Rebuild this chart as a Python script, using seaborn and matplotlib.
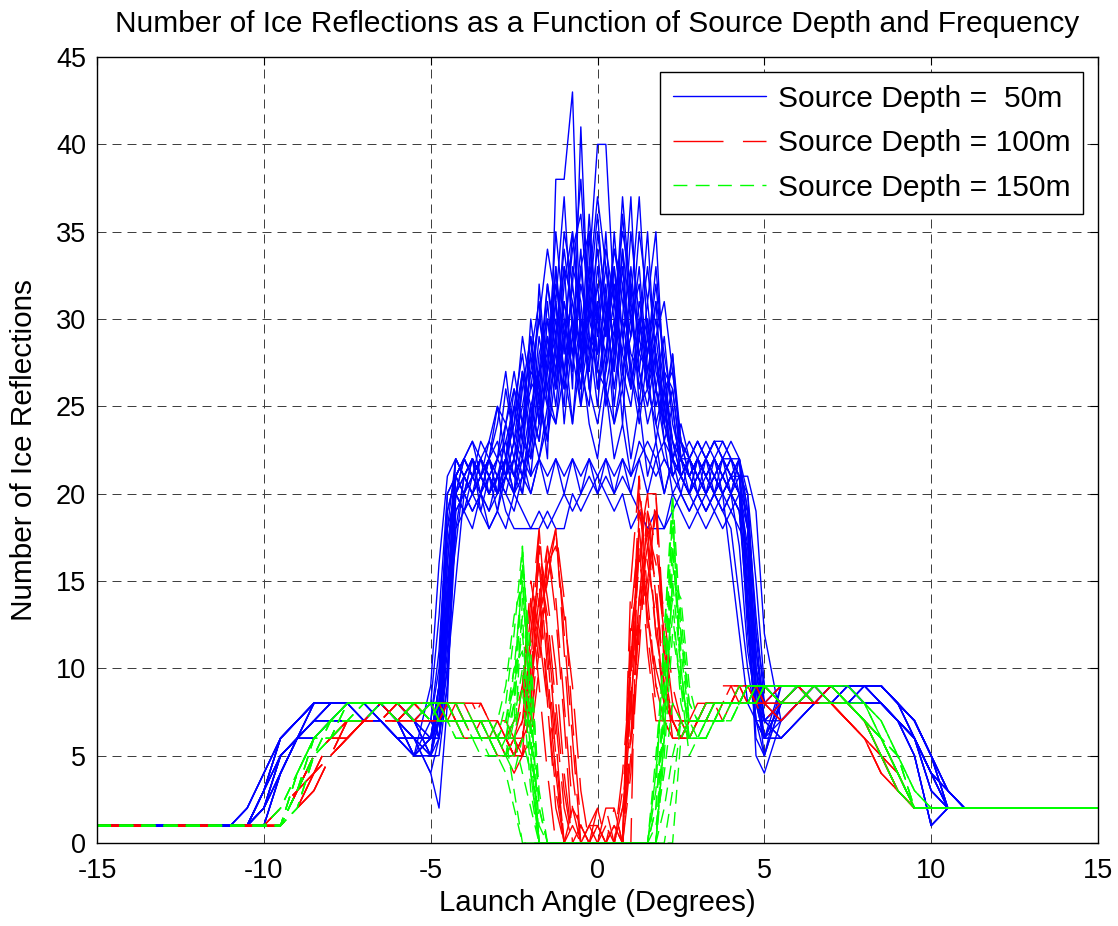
import matplotlib
matplotlib.use("Agg")
import pandas as pd
import seaborn as sns
import matplotlib.pyplot as plt
from matplotlib.lines import Line2D

# launch angle grids (degrees): coarse on the wings, finer in the middle
ANGLE_LEFT = [-15, -11, -10.5, -10, -9.5, -9, -8.5, -8, -7.5, -7, -6.5, -6, -5.5]
ANGLE_CORE = [-5, -4.75, -4.5, -4.25, -4, -3.75, -3.5, -3.25, -3, -2.75,
              -2.5, -2.25, -2, -1.75, -1.5, -1.25, -1, -0.75, -0.5, -0.25,
              0, 0.25, 0.5, 0.75, 1, 1.25, 1.5, 1.75, 2, 2.25, 2.5,
              2.75, 3, 3.25, 3.5, 3.75, 4, 4.25, 4.5, 4.75, 5]
ANGLE_RIGHT = [5.5, 6, 6.5, 7, 7.5, 8, 8.5, 9, 9.5, 10, 10.5, 11, 15]

DEPTHS = ["Source Depth =  50m", "Source Depth = 100m", "Source Depth = 150m"]

# ---- 50 m source (blue) ----
BLUE_LEFT = [
    [1, 1, 1, 3, 6, 7, 8, 8, 8, 8, 8, 7, 6],
    [1, 1, 1, 2, 5, 6, 7, 8, 8, 8, 8, 8, 7],
    [1, 1, 2, 4, 6, 7, 8, 8, 8, 8, 7, 6, 6],
    [1, 1, 1, 1, 4, 6, 7, 7, 8, 8, 8, 7, 5],
    [1, 1, 1, 3, 5, 6, 6, 7, 7, 7, 8, 8, 7],
    [1, 1, 1, 2, 4, 6, 8, 8, 8, 7, 7, 6, 5],
]
BLUE_CORE = [
    [6, 6, 12, 21, 22, 21, 22, 21, 20, 21, 22, 24, 21, 26, 22, 38, 38, 43, 28, 24,
     22, 26, 22, 24, 21, 23, 22, 21, 22, 21, 22, 21, 22, 21, 22, 21, 22, 21, 14, 8, 7],
    [5, 7, 15, 20, 21, 20, 21, 22, 21, 23, 25, 22, 28, 24, 30, 27, 33, 26, 41, 29,
     25, 30, 24, 26, 22, 25, 21, 23, 20, 22, 21, 20, 21, 20, 21, 20, 21, 20, 12, 7, 6],
    [6, 8, 18, 22, 21, 22, 21, 20, 21, 22, 21, 20, 23, 32, 26, 24, 29, 31, 27, 33,
     40, 40, 31, 28, 35, 30, 26, 24, 22, 21, 22, 22, 23, 22, 23, 23, 22, 22, 18, 9, 8],
    [7, 6, 10, 19, 20, 19, 20, 19, 21, 20, 19, 21, 20, 22, 24, 33, 26, 30, 25, 28,
     31, 26, 29, 37, 31, 37, 29, 26, 24, 22, 21, 20, 19, 20, 19, 20, 19, 20, 16, 10, 6],
    [5, 5, 9, 20, 22, 21, 23, 22, 24, 27, 23, 27, 25, 23, 28, 31, 24, 29, 34, 26,
     30, 28, 33, 27, 29, 35, 31, 35, 26, 23, 21, 22, 21, 22, 23, 22, 21, 22, 20, 12, 7],
    [6, 9, 17, 21, 20, 22, 20, 22, 20, 22, 24, 27, 23, 25, 23, 27, 31, 28, 25, 35,
     27, 32, 25, 30, 27, 24, 28, 31, 24, 28, 22, 20, 22, 20, 22, 21, 20, 21, 15, 9, 5],
    [4, 2, 8, 20, 19, 20, 19, 18, 19, 18, 20, 21, 24, 27, 29, 26, 32, 35, 30, 27,
     33, 29, 34, 31, 28, 27, 24, 26, 23, 20, 19, 18, 19, 18, 19, 18, 19, 18, 17, 8, 9],
    [6, 7, 14, 22, 21, 22, 21, 22, 21, 22, 21, 22, 21, 22, 21, 22, 21, 22, 21, 22,
     21, 22, 21, 22, 21, 22, 23, 22, 23, 22, 23, 22, 23, 22, 23, 22, 21, 22, 19, 13, 8],
    [5, 6, 11, 18, 19, 18, 20, 18, 19, 21, 20, 27, 22, 24, 29, 25, 30, 27, 32, 29,
     28, 35, 27, 34, 26, 29, 35, 27, 25, 21, 20, 19, 20, 19, 20, 19, 20, 19, 14, 6, 5],
    [6, 8, 16, 21, 22, 21, 22, 21, 22, 24, 22, 26, 29, 24, 27, 33, 28, 35, 29, 31,
     26, 28, 31, 26, 33, 28, 27, 29, 25, 28, 23, 21, 22, 21, 22, 23, 22, 21, 16, 8, 6],
    [7, 10, 19, 21, 20, 21, 20, 21, 20, 21, 20, 19, 18, 18, 19, 18, 18, 20, 19, 20,
     21, 20, 19, 20, 18, 19, 18, 19, 18, 20, 21, 20, 21, 20, 21, 20, 21, 20, 17, 11, 7],
    [5, 7, 13, 20, 21, 22, 21, 23, 25, 24, 27, 24, 29, 25, 31, 26, 29, 24, 30, 27,
     35, 31, 26, 30, 37, 27, 25, 28, 24, 22, 24, 22, 21, 22, 21, 22, 21, 20, 13, 7, 6],
    [6, 6, 13, 21, 22, 23, 21, 22, 25, 22, 26, 24, 27, 26, 23, 29, 25, 33, 31, 26,
     24, 27, 30, 24, 32, 25, 30, 24, 26, 23, 21, 22, 21, 22, 21, 20, 21, 20, 16, 9, 7],
    [8, 6, 12, 20, 19, 20, 21, 20, 21, 22, 25, 23, 30, 26, 32, 28, 26, 29, 27, 25,
     31, 25, 28, 33, 27, 31, 28, 32, 27, 26, 22, 21, 20, 21, 20, 21, 20, 22, 14, 5, 4],
    [6, 7, 14, 21, 20, 22, 19, 21, 19, 22, 20, 23, 22, 27, 25, 31, 27, 24, 28, 33,
     28, 30, 33, 29, 26, 30, 27, 23, 26, 21, 22, 21, 22, 21, 20, 21, 22, 21, 18, 10, 8],
    [5, 9, 20, 21, 22, 21, 22, 21, 20, 21, 23, 21, 24, 22, 25, 24, 27, 30, 26, 29,
     27, 26, 24, 27, 25, 29, 26, 28, 23, 25, 21, 22, 23, 22, 23, 22, 23, 22, 19, 12, 9],
    [5, 8, 13, 17, 21, 22, 21, 22, 23, 21, 25, 28, 24, 29, 26, 30, 27, 32, 28, 36,
     29, 33, 28, 36, 30, 27, 31, 26, 29, 24, 22, 23, 22, 21, 22, 20, 16, 12, 8, 7, 6],
    [9, 16, 21, 22, 21, 20, 21, 20, 22, 23, 21, 24, 26, 30, 27, 35, 30, 27, 33, 28,
     32, 27, 35, 29, 31, 26, 29, 25, 27, 22, 21, 22, 21, 22, 21, 22, 21, 21, 20, 15, 9],
    [6, 7, 10, 15, 20, 21, 22, 21, 22, 21, 23, 22, 25, 27, 32, 29, 34, 30, 26, 31,
     36, 30, 27, 32, 29, 33, 27, 30, 26, 27, 23, 21, 22, 21, 20, 19, 18, 14, 10, 7, 5],
    [7, 11, 19, 21, 22, 21, 22, 23, 22, 26, 23, 25, 28, 31, 25, 28, 35, 32, 38, 30,
     34, 29, 32, 27, 30, 32, 26, 31, 28, 25, 21, 20, 22, 21, 22, 21, 22, 21, 21, 19, 12],
    [4, 6, 9, 18, 21, 20, 21, 20, 21, 20, 22, 21, 23, 28, 30, 26, 31, 28, 33, 35,
     30, 34, 31, 35, 32, 29, 33, 28, 25, 22, 21, 20, 21, 20, 21, 20, 21, 20, 19, 9, 6],
    [6, 9, 14, 20, 19, 21, 20, 19, 20, 24, 26, 23, 27, 30, 34, 31, 37, 29, 27, 32,
     37, 33, 30, 28, 26, 30, 28, 33, 27, 23, 22, 21, 20, 19, 20, 21, 20, 19, 13, 7, 7],
    [8, 13, 20, 21, 22, 23, 22, 21, 20, 22, 24, 29, 26, 27, 28, 32, 29, 34, 36, 30,
     28, 31, 29, 34, 30, 28, 30, 26, 24, 26, 22, 21, 22, 23, 22, 21, 20, 17, 11, 8, 6],
    [6, 7, 12, 19, 20, 19, 20, 22, 20, 21, 22, 20, 25, 23, 27, 29, 33, 31, 28, 32,
     26, 30, 34, 32, 27, 25, 26, 29, 31, 27, 23, 22, 21, 20, 21, 22, 22, 20, 18, 11, 8],
    [5, 8, 16, 22, 21, 20, 22, 20, 21, 19, 18, 18, 18, 19, 18, 19, 20, 19, 20, 21,
     20, 21, 20, 21, 20, 19, 18, 18, 18, 19, 20, 19, 20, 19, 20, 19, 20, 19, 14, 9, 6],
    [6, 9, 18, 20, 22, 21, 20, 22, 20, 22, 20, 22, 20, 22, 20, 22, 20, 22, 20, 22,
     20, 22, 20, 22, 20, 22, 20, 22, 20, 22, 20, 22, 20, 22, 20, 22, 20, 22, 18, 10, 7],
]
BLUE_RIGHT = [
    [8, 9, 9, 9, 9, 9, 9, 8, 7, 5, 3, 2, 2],
    [7, 8, 8, 9, 9, 9, 8, 7, 6, 4, 2, 2, 2],
    [9, 9, 8, 8, 8, 9, 9, 8, 6, 4, 3, 2, 2],
    [8, 8, 9, 9, 9, 8, 8, 7, 5, 1, 2, 2, 2],
    [6, 7, 8, 8, 9, 9, 9, 8, 7, 5, 2, 2, 2],
    [8, 9, 9, 8, 8, 8, 8, 7, 6, 3, 2, 2, 2],
]

# ---- 100 m source (red) ----
RED_LEFT = [
    [1, 1, 1, 1, 1, 3, 5, 6, 7, 7, 7, 8, 8],
    [1, 1, 1, 1, 1, 2, 4, 5, 6, 7, 7, 7, 8],
    [1, 1, 1, 1, 1, 3, 5, 5, 6, 7, 8, 8, 7],
    [1, 1, 1, 1, 1, 2, 3, 5, 7, 7, 7, 7, 7],
    [1, 1, 1, 1, 2, 3, 4, 6, 6, 7, 8, 7, 8],
]
RED_CORE = [
    [8, 8, 8, 7, 7, 7, 7, 7, 6, 6, 5, 6, 10, 18, 12, 6, 0, 0, 1, 0,
     0, 2, 2, 0, 0, 21, 14, 9, 8, 7, 6, 7, 7, 8, 8, 8, 8, 9, 9, 8, 8],
    [7, 8, 7, 7, 7, 6, 7, 6, 7, 6, 6, 7, 9, 13, 15, 18, 12, 6, 0, 1,
     0, 0, 1, 0, 12, 16, 20, 20, 10, 6, 6, 7, 7, 7, 8, 8, 9, 9, 8, 8, 9],
    [8, 7, 8, 8, 7, 7, 6, 6, 5, 5, 4, 5, 12, 16, 10, 4, 0, 1, 0, 0,
     1, 0, 0, 4, 10, 17, 11, 7, 7, 6, 7, 7, 8, 8, 8, 9, 9, 8, 8, 8, 7],
    [7, 7, 7, 7, 6, 6, 6, 6, 6, 5, 6, 8, 14, 9, 4, 0, 0, 2, 1, 0,
     0, 0, 0, 0, 6, 13, 18, 12, 8, 7, 7, 7, 7, 7, 7, 8, 8, 8, 9, 9, 8],
    [8, 8, 8, 8, 8, 7, 7, 7, 7, 6, 5, 5, 8, 17, 14, 10, 4, 0, 0, 0,
     2, 2, 0, 0, 9, 19, 16, 13, 8, 7, 6, 6, 7, 8, 8, 8, 8, 8, 9, 9, 8],
    [7, 8, 8, 7, 7, 7, 8, 7, 6, 6, 6, 6, 7, 11, 17, 13, 7, 0, 0, 0,
     0, 1, 0, 3, 8, 14, 17, 15, 9, 7, 6, 6, 7, 7, 8, 7, 8, 8, 8, 9, 9],
    [8, 8, 7, 7, 7, 7, 7, 6, 6, 6, 5, 6, 11, 15, 8, 3, 0, 0, 0, 1,
     2, 0, 0, 0, 15, 21, 12, 8, 7, 6, 6, 7, 7, 8, 8, 8, 8, 9, 9, 8, 8],
    [7, 7, 7, 8, 8, 8, 7, 7, 7, 6, 7, 9, 13, 18, 11, 5, 0, 0, 0, 0,
     0, 0, 0, 0, 11, 16, 14, 20, 12, 7, 6, 7, 7, 7, 8, 8, 8, 8, 8, 9, 9],
    [8, 8, 8, 8, 7, 7, 7, 7, 6, 6, 6, 5, 7, 12, 15, 18, 11, 4, 0, 0,
     1, 1, 0, 2, 7, 18, 13, 9, 7, 7, 6, 7, 7, 8, 8, 8, 8, 9, 8, 8, 8],
    [7, 7, 8, 8, 7, 7, 6, 6, 6, 5, 5, 6, 9, 14, 9, 4, 0, 0, 1, 0,
     0, 0, 1, 0, 4, 12, 19, 14, 10, 7, 7, 6, 7, 7, 7, 8, 8, 8, 8, 8, 8],
    [8, 7, 7, 7, 7, 7, 7, 6, 6, 6, 5, 5, 6, 10, 16, 17, 13, 9, 3, 0,
     0, 0, 0, 0, 5, 13, 15, 19, 11, 8, 7, 7, 7, 7, 8, 8, 8, 8, 9, 9, 8],
    [7, 8, 8, 8, 7, 7, 7, 7, 6, 5, 6, 9, 15, 12, 8, 2, 0, 0, 0, 1,
     1, 0, 1, 0, 10, 20, 17, 12, 9, 7, 6, 7, 7, 8, 8, 8, 9, 9, 9, 8, 8],
    [8, 8, 7, 7, 7, 6, 6, 6, 6, 6, 7, 8, 11, 16, 13, 8, 3, 0, 0, 0,
     0, 0, 0, 2, 6, 11, 18, 16, 12, 8, 7, 6, 7, 7, 7, 8, 8, 8, 8, 8, 9],
    [7, 7, 8, 8, 8, 8, 8, 7, 7, 7, 6, 6, 10, 14, 17, 14, 8, 2, 0, 0,
     1, 0, 0, 0, 8, 17, 20, 14, 9, 7, 6, 6, 7, 7, 8, 8, 8, 8, 9, 9, 9],
    [8, 8, 8, 7, 7, 7, 7, 7, 6, 6, 5, 7, 12, 17, 12, 7, 2, 0, 0, 0,
     0, 0, 0, 0, 13, 18, 13, 10, 8, 7, 6, 7, 7, 7, 8, 8, 8, 9, 9, 9, 8],
    [7, 7, 7, 7, 6, 6, 6, 6, 5, 5, 5, 6, 8, 13, 16, 18, 14, 7, 1, 0,
     0, 0, 2, 0, 6, 14, 19, 17, 13, 9, 7, 7, 7, 8, 8, 8, 8, 8, 8, 9, 9],
]
RED_RIGHT = [
    [8, 8, 8, 8, 7, 6, 5, 3, 2, 2, 2, 2, 2],
    [9, 9, 8, 8, 8, 7, 5, 3, 2, 2, 2, 2, 2],
    [8, 8, 9, 8, 7, 6, 4, 3, 2, 2, 2, 2, 2],
    [8, 9, 8, 8, 8, 7, 6, 4, 2, 2, 2, 2, 2],
    [7, 8, 8, 9, 8, 7, 5, 4, 2, 2, 2, 2, 2],
]

# ---- 150 m source (green) ----
GREEN_LEFT = [
    [1, 1, 1, 1, 1, 4, 6, 7, 8, 8, 8, 8, 8],
    [1, 1, 1, 1, 1, 3, 5, 7, 7, 8, 8, 8, 8],
    [1, 1, 1, 1, 1, 3, 6, 6, 8, 8, 8, 7, 8],
    [1, 1, 1, 1, 1, 2, 5, 6, 7, 7, 8, 8, 8],
    [1, 1, 1, 1, 2, 4, 6, 7, 8, 8, 8, 8, 7],
]
GREEN_CORE = [
    [8, 8, 8, 7, 7, 7, 6, 6, 5, 5, 8, 17, 8, 0, 0, 0, 0, 0, 0, 0,
     0, 0, 0, 0, 0, 0, 0, 0, 9, 19, 10, 6, 6, 7, 7, 8, 8, 8, 8, 9, 9],
    [8, 8, 7, 7, 6, 6, 6, 6, 6, 6, 3, 0, 0, 0, 0, 0, 0, 0, 0, 0,
     0, 0, 0, 0, 0, 0, 0, 0, 0, 0, 6, 7, 7, 7, 8, 8, 8, 8, 9, 9, 9],
    [7, 7, 7, 7, 7, 7, 7, 6, 6, 7, 9, 12, 6, 0, 0, 0, 0, 0, 0, 0,
     0, 0, 0, 0, 0, 0, 0, 4, 10, 14, 8, 6, 6, 6, 7, 7, 7, 8, 8, 8, 9],
    [8, 7, 7, 6, 6, 6, 5, 5, 5, 6, 7, 10, 4, 0, 0, 0, 0, 0, 0, 0,
     0, 0, 0, 0, 0, 0, 0, 2, 8, 17, 11, 7, 6, 6, 7, 7, 8, 8, 8, 8, 9],
    [8, 8, 8, 8, 7, 7, 7, 7, 6, 6, 6, 9, 3, 0, 0, 0, 0, 0, 0, 0,
     0, 0, 0, 0, 0, 0, 0, 0, 5, 12, 9, 7, 7, 8, 8, 8, 8, 8, 9, 9, 9],
    [7, 8, 7, 7, 7, 6, 6, 6, 5, 5, 5, 14, 10, 3, 0, 0, 0, 0, 0, 0,
     0, 0, 0, 0, 0, 0, 0, 0, 6, 16, 12, 8, 7, 7, 7, 8, 8, 8, 8, 9, 9],
    [8, 8, 8, 7, 7, 7, 7, 6, 6, 5, 7, 16, 11, 2, 0, 0, 0, 0, 0, 0,
     0, 0, 0, 0, 0, 0, 0, 3, 12, 19, 9, 5, 6, 6, 7, 7, 7, 8, 8, 8, 9],
    [7, 7, 7, 6, 6, 6, 6, 5, 5, 5, 6, 4, 2, 0, 0, 0, 0, 0, 0, 0,
     0, 0, 0, 0, 0, 0, 0, 0, 2, 5, 7, 6, 6, 7, 7, 7, 8, 8, 8, 8, 9],
    [8, 8, 8, 8, 8, 7, 7, 7, 6, 6, 10, 15, 7, 0, 0, 0, 0, 0, 0, 0,
     0, 0, 0, 0, 0, 0, 0, 5, 11, 18, 13, 8, 7, 7, 7, 8, 8, 8, 8, 9, 9],
    [8, 7, 7, 7, 7, 7, 6, 6, 6, 6, 8, 13, 5, 0, 0, 0, 0, 0, 0, 0,
     0, 0, 0, 0, 0, 0, 0, 0, 7, 15, 10, 6, 7, 7, 8, 8, 8, 8, 9, 9, 9],
    [8, 8, 7, 7, 7, 7, 7, 6, 6, 8, 12, 17, 9, 2, 0, 0, 0, 0, 0, 0,
     0, 0, 0, 0, 0, 0, 0, 4, 12, 20, 12, 7, 7, 7, 8, 8, 8, 8, 9, 9, 9],
    [8, 8, 8, 7, 7, 6, 6, 6, 5, 4, 2, 0, 0, 0, 0, 0, 0, 0, 0, 0,
     0, 0, 0, 0, 0, 0, 0, 0, 0, 3, 7, 7, 7, 8, 8, 8, 8, 9, 9, 9, 9],
    [7, 7, 7, 7, 6, 6, 6, 6, 7, 9, 13, 15, 8, 1, 0, 0, 0, 0, 0, 0,
     0, 0, 0, 0, 0, 0, 0, 0, 6, 15, 14, 9, 7, 7, 7, 7, 8, 8, 8, 8, 9],
    [8, 8, 8, 8, 7, 7, 7, 7, 6, 5, 4, 6, 4, 0, 0, 0, 0, 0, 0, 0,
     0, 0, 0, 0, 0, 0, 0, 1, 4, 8, 7, 6, 6, 7, 7, 8, 8, 8, 8, 9, 9],
    [8, 7, 7, 7, 7, 7, 7, 6, 6, 6, 9, 16, 6, 0, 0, 0, 0, 0, 0, 0,
     0, 0, 0, 0, 0, 0, 0, 2, 9, 17, 10, 6, 6, 6, 7, 7, 7, 8, 8, 8, 9],
    [7, 8, 8, 7, 7, 7, 6, 6, 6, 7, 10, 11, 5, 0, 0, 0, 0, 0, 0, 0,
     0, 0, 0, 0, 0, 0, 0, 0, 8, 13, 9, 7, 7, 7, 8, 8, 8, 8, 9, 9, 9],
]
GREEN_RIGHT = [
    [9, 9, 9, 9, 8, 7, 6, 4, 2, 2, 2, 2, 2],
    [9, 9, 9, 8, 8, 7, 5, 3, 2, 2, 2, 2, 2],
    [8, 9, 9, 9, 9, 8, 7, 5, 3, 2, 2, 2, 2],
    [9, 9, 8, 8, 8, 7, 6, 5, 2, 2, 2, 2, 2],
    [8, 8, 9, 9, 8, 8, 6, 4, 2, 2, 2, 2, 2],
]

PALETTE = {DEPTHS[0]: "#0000ff", DEPTHS[1]: "#ff0000", DEPTHS[2]: "#00ff00"}
DASHES = {DEPTHS[0]: "", DEPTHS[1]: (36, 14), DEPTHS[2]: (10, 6)}
LW = 1.0


def montar_df():
    'junta as partes (asa esquerda, centro, asa direita) de cada curva'
    partes = [(DEPTHS[0], BLUE_LEFT, BLUE_CORE, BLUE_RIGHT),
              (DEPTHS[1], RED_LEFT, RED_CORE, RED_RIGHT),
              (DEPTHS[2], GREEN_LEFT, GREEN_CORE, GREEN_RIGHT)]
    angulos = ANGLE_LEFT + ANGLE_CORE + ANGLE_RIGHT
    linhas = []
    for depth, left, core, right in partes:
        for k, c in enumerate(core):
            assert len(c) == len(ANGLE_CORE), (depth, k, len(c))
            vals = left[k % len(left)] + c + right[k % len(right)]
            for a, v in zip(angulos, vals):
                linhas.append((depth, f"{depth}-{k}", a, v))
    return pd.DataFrame(linhas, columns=["depth", "run", "angle", "reflections"])


df = montar_df()

sns.set_theme(style="white")
plt.rcParams["font.family"] = ["Liberation Sans", "DejaVu Sans"]
plt.rcParams["axes.unicode_minus"] = False
for k in ["text.color", "axes.labelcolor", "xtick.color", "ytick.color"]:
    plt.rcParams[k] = "black"

fig = plt.figure(figsize=(11.18, 9.26), dpi=100)
ax = fig.add_axes([0.0868, 0.0896, 0.8953, 0.8488])

sns.lineplot(data=df, x="angle", y="reflections", hue="depth", style="depth",
             units="run", estimator=None, hue_order=DEPTHS, style_order=DEPTHS,
             palette=PALETTE, dashes=DASHES, lw=LW, legend=False, ax=ax)

ax.set_xlim(-15, 15)
ax.set_ylim(0, 45)
ax.set_xticks(range(-15, 16, 5))
ax.set_yticks(range(0, 46, 5))
ax.set_axisbelow(True)
ax.grid(True, color="0.25", lw=0.72, linestyle=(0, (9, 6)))
for s in ax.spines.values():
    s.set_color("black")
    s.set_linewidth(1.0)
ax.tick_params(direction="in", length=6, width=0.8, top=True, right=True,
               labelsize=19.5, colors="black")
ax.tick_params(axis="x", pad=11)
ax.tick_params(axis="y", pad=8)

ax.set_title("Number of Ice Reflections as a Function of Source Depth and Frequency",
             fontsize=21.5, pad=18)
ax.set_xlabel("Launch Angle (Degrees)", fontsize=21.2, labelpad=3.5)
ax.set_ylabel("Number of Ice Reflections", fontsize=21.4, labelpad=13)

handles = [Line2D([], [], color=PALETTE[DEPTHS[0]], lw=LW, linestyle="-"),
           Line2D([], [], color=PALETTE[DEPTHS[1]], lw=LW, dashes=DASHES[DEPTHS[1]]),
           Line2D([], [], color=PALETTE[DEPTHS[2]], lw=LW, dashes=DASHES[DEPTHS[2]])]
leg = ax.legend(handles, DEPTHS, loc="upper right", fontsize=21.6, frameon=True,
                fancybox=False, framealpha=1, edgecolor="black",
                handlelength=3.1, handletextpad=0.4, labelspacing=0.55,
                borderpad=0.42, borderaxespad=0.5)
leg.get_frame().set_linewidth(1.0)

fig.savefig("out.png", dpi=100)
